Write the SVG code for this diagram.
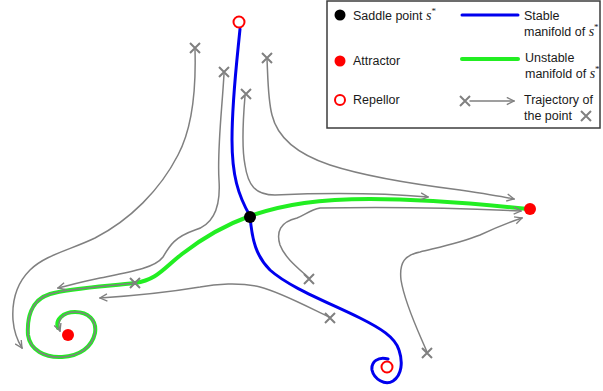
<svg xmlns="http://www.w3.org/2000/svg" xmlns:xlink="http://www.w3.org/1999/xlink" width="603" height="391" viewBox="0 0 603 391">
<style>
.traj{fill:none;stroke:#808080;stroke-width:1.5;stroke-linecap:round}
.xm{fill:none;stroke:#808080;stroke-width:2}
.stable{fill:none;stroke:#0000ee;stroke-width:3;stroke-linecap:round}
.unstable{fill:none;stroke:#22ee22;stroke-width:4;stroke-linecap:round}
.att{fill:#ff0000}
.rep{fill:#fff;stroke:#ff0000;stroke-width:2}
.lbl{font-family:"Liberation Sans",Arial,sans-serif;font-size:12.5px;fill:#1a1a1a}
.mth{font-family:"Liberation Serif","Times New Roman",serif;font-style:italic;font-size:14px}
.sup{font-family:"Liberation Serif","Times New Roman",serif;font-size:9px}
</style>
<defs>
<marker id="ah" viewBox="0 0 10 10" refX="9" refY="5" markerWidth="9" markerHeight="9" markerUnits="userSpaceOnUse" orient="auto">
<path d="M1,1 L9,5 L1,9" fill="none" stroke="#808080" stroke-width="1.5"/>
</marker>
<path id="xmark" class="xm" d="M-5,-5 L5,5 M-5,5 L5,-5"/>
</defs>
<rect width="603" height="391" fill="#fff"/>

<g id="connectors">
<path id="stable-manifold" class="stable" d="M240,29 C237,60 232,100 232,140 C232,175 238,195 250,216 C252,240 256,256 270,270 C290,288 330,303 360,318 C380,328 395,337 399,350 C403,362 402,375 393,381 C385,386 374,379 372,370 C371,362 378,356 388,359"/>
<path id="unstable-manifold" class="unstable" d="M528,209 C480,204 420,199 370,199 C320,199 285,204 250,216 C225,225 200,240 182,254 C164,268 157,280 135,283 C110,286 70,288 50,294 C30,300 27,320 28,335 C30,350 45,358 62,357 C80,356 92,347 95,333 C97,320 88,312 75,312 C63,312 55,320 58,328"/>
<path id="t1" class="traj" marker-end="url(#ah)" d="M195,50 C196,85 194,125 178,155 C160,190 130,220 95,238 C70,250 45,255 30,270 C15,285 12,305 13,320 C14,332 17,340 22,348"/>
<path id="t2" class="traj" marker-end="url(#ah)" d="M224,74 C222,110 217,150 219,180 C221,210 212,225 195,230 C175,237 170,245 163,257 C155,268 130,272 100,278 C85,281 70,285 58,288"/>
<path id="t3" class="traj" marker-end="url(#ah)" d="M245,96 C243,120 242,150 245,165 C248,185 255,195 275,195 C320,193 380,193 428,197"/>
<path id="t4" class="traj" marker-end="url(#ah)" d="M267,59 C268,80 268,100 272,115 C278,140 300,155 330,165 C370,178 420,185 460,190 C480,193 500,196 514,199"/>
<path id="t5" class="traj" marker-end="url(#ah)" d="M309,278 C298,268 285,258 280,245 C276,232 280,222 297,218 C305,215 310,210 320,208 C380,207 460,208 521,211"/>
<path id="t6" class="traj" marker-end="url(#ah)" d="M427,352 C420,335 405,305 401,280 C399,262 405,255 420,252 C440,247 460,243 480,235 C495,228 510,222 522,218"/>
<path id="t7" class="traj" marker-end="url(#ah)" d="M329,317 C310,308 280,292 260,287 C240,282 215,284 200,287 C170,292 130,296 100,298"/>
<path id="t8" class="traj" marker-end="url(#ah)" d="M135,283 C110,286 70,288 50,294 C30,300 27,320 28,335 C30,350 45,358 62,357 C80,356 92,347 95,333 C97,320 88,312 75,312 C63,312 56,320 60,331"/>
</g>

<g id="start-points">
<use href="#xmark" x="195" y="48"/>
<use href="#xmark" x="224" y="72"/>
<use href="#xmark" x="267" y="58"/>
<use href="#xmark" x="246" y="94"/>
<use href="#xmark" x="135" y="283"/>
<use href="#xmark" x="309" y="279"/>
<use href="#xmark" x="330" y="318"/>
<use href="#xmark" x="427" y="353"/>
</g>

<g id="saddle"><circle cx="250" cy="217" r="6" fill="#000"/></g>
<g id="attractor-right"><circle class="att" cx="530" cy="209" r="6"/></g>
<g id="attractor-left"><circle class="att" cx="68" cy="335" r="6"/></g>
<g id="repellor-top"><circle class="rep" cx="239" cy="22" r="5.5"/></g>
<g id="repellor-bottom"><circle class="rep" cx="387" cy="367" r="5.5"/></g>

<g id="legend">
<rect x="327" y="1" width="273" height="127" fill="#fff" stroke="#3c3c3c" stroke-width="1.5"/>
<circle cx="340" cy="15" r="5.5" fill="#000"/>
<text class="lbl" x="353" y="20">Saddle point <tspan class="mth">s</tspan><tspan class="sup" dy="-6">*</tspan></text>
<circle class="att" cx="340" cy="61" r="5.5"/>
<text class="lbl" x="353" y="65">Attractor</text>
<circle class="rep" cx="340" cy="100" r="5"/>
<text class="lbl" x="353" y="104">Repellor</text>
<line class="stable" x1="462" y1="15" x2="518" y2="15" stroke-linecap="butt"/>
<text class="lbl" x="524" y="20">Stable</text>
<text class="lbl" x="524" y="36">manifold of <tspan class="mth">s</tspan><tspan class="sup" dy="-6">*</tspan></text>
<line class="unstable" x1="462" y1="59" x2="518" y2="59" stroke-width="3" stroke-linecap="butt"/>
<text class="lbl" x="525" y="62">Unstable</text>
<text class="lbl" x="525" y="78">manifold of <tspan class="mth">s</tspan><tspan class="sup" dy="-6">*</tspan></text>
<use href="#xmark" x="465" y="101"/>
<line class="traj" x1="470" y1="101" x2="514" y2="101" marker-end="url(#ah)"/>
<text class="lbl" x="524" y="104">Trajectory of</text>
<text class="lbl" x="524" y="120">the point</text>
<use href="#xmark" x="586" y="116"/>
</g>
</svg>
